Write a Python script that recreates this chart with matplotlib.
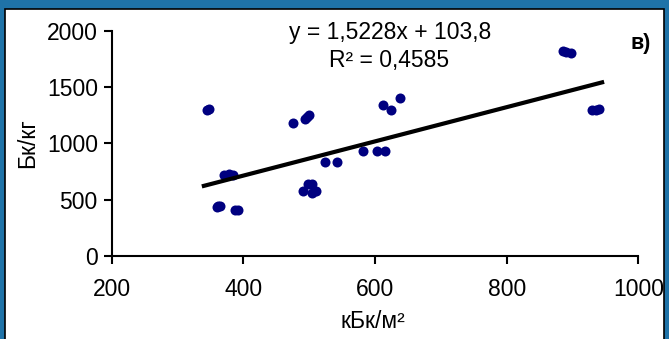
import matplotlib.pyplot as plt
from matplotlib.patches import Rectangle

plt.rcParams['font.family'] = ['Liberation Sans', 'DejaVu Sans']
plt.rcParams['font.size'] = 16.5

# kBq/m2 vs Bq/kg
x_vals = [345, 348, 475, 493, 497, 500, 612, 625, 638, 885, 890, 897,
          930, 935, 940, 524, 542, 582, 603, 615, 370, 378, 385,
          360, 362, 365, 388, 392, 491, 498, 505, 505, 510]
y_vals = [1300, 1305, 1180, 1220, 1235, 1250, 1345, 1300, 1405, 1820, 1815, 1800,
          1300, 1300, 1305, 830, 830, 935, 935, 935, 720, 725, 720,
          430, 445, 440, 410, 405, 575, 640, 640, 560, 580]
slope = 1.5228
icpt = 103.8
line_x = [340, 945]

W, H = 669, 339
fig = plt.figure(figsize=(W / 100, H / 100), dpi=100)
fig.patch.set_facecolor('#1f73a8')
fig.patches.append(Rectangle((4.5 / W, -0.1), (663.5 - 4.5) / W, 1.1 - 8.5 / H,
                             transform=fig.transFigure, facecolor='white',
                             edgecolor='black', linewidth=1.2, zorder=-5))

ax = fig.add_axes([111.7 / W, 1 - 255.7 / H, (638.3 - 111.7) / W, (255.7 - 31) / H])
ax.set_zorder(2)
ax.set_facecolor('none')
ax.scatter(x_vals, y_vals, s=52, color='#000080', zorder=3, linewidths=0)
ax.plot(line_x, [slope * v + icpt for v in line_x], color='black', lw=3, zorder=4)

ax.set_xlim(200, 1000)
ax.set_ylim(0, 2000)
ax.set_xticks([200, 400, 600, 800, 1000])
ax.set_yticks([0, 500, 1000, 1500, 2000])
for s in ['top', 'right']:
    ax.spines[s].set_visible(False)
for s in ['left', 'bottom']:
    ax.spines[s].set_linewidth(1.5)
ax.tick_params(axis='both', length=6, width=1.5, direction='out')
ax.tick_params(axis='x', pad=10)
ax.tick_params(axis='y', pad=4)

fig.text(390 / W, 1 - 33 / H, 'y = 1,5228x + 103,8', ha='center', va='center')
fig.text(389 / W, 1 - 61 / H, 'R² = 0,4585', ha='center', va='center')
fig.text(641 / W, 1 - 43 / H, 'в)', ha='center', va='center', fontweight='bold', fontsize=15.5)
fig.text(28 / W, 1 - 143 / H, 'Бк/кг', ha='center', va='center', rotation=90)
fig.text(373 / W, 1 - 322 / H, 'кБк/м²', ha='center', va='center')

fig.savefig('out.png', dpi=100, facecolor=fig.get_facecolor())
